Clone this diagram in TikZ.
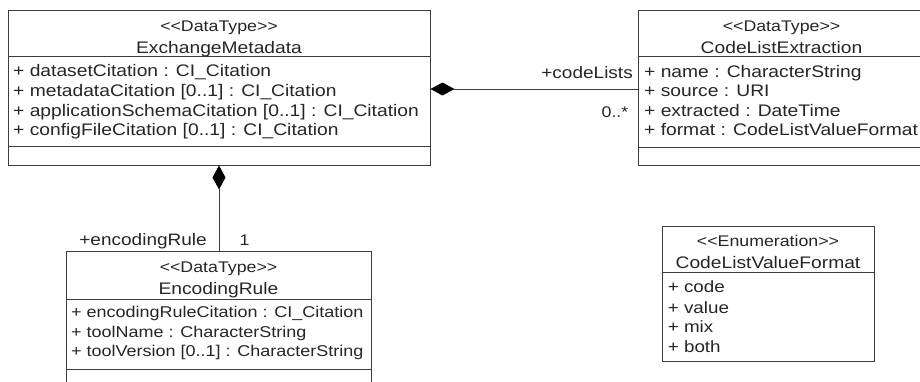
\documentclass[tikz,border=0pt]{standalone}
\usepackage{fontspec}
\setmainfont[FakeStretch=1.15]{Liberation Sans}
\usetikzlibrary{arrows.meta}
\definecolor{linec}{HTML}{3C3C3C}
\definecolor{textc}{HTML}{262626}
\tikzset{
  umlbox/.style={draw=linec, line width=0.9bp, inner sep=0pt, fill=white},
  sepline/.style={draw=linec, line width=0.9bp},
  conn/.style={draw=linec, line width=0.9bp},
  stereo/.style={anchor=base, inner sep=0pt, text=textc, font=\fontsize{15.5}{18}\selectfont},
  cname/.style={anchor=base, inner sep=0pt, text=textc, font=\fontsize{16.8}{20}\selectfont},
  attr/.style={anchor=base west, inner sep=0pt, text=textc, font=\fontsize{16.8}{20}\selectfont},
  attrsm/.style={attr, font=\fontsize{15.7}{19}\selectfont},
  rolel/.style={anchor=base east, inner sep=0pt, text=textc, font=\fontsize{16.6}{20}\selectfont},
  multl/.style={anchor=base west, inner sep=0pt, text=textc, font=\fontsize{15.5}{18}\selectfont},
  compdia/.tip={Diamond[length=24bp, width=13bp, fill=black, color=black]}
}
\begin{document}
\begin{tikzpicture}[x=1bp, y=-1bp]
\useasboundingbox (0,0) rectangle (920,381);
\clip (0,0) rectangle (920,381);
\fill[white] (0,0) rectangle (920,381);

% ExchangeMetadata
\node[umlbox, minimum width=422bp, minimum height=155bp] (em) at (219,87.5) {};
\draw[sepline] (em.west |- 0,56) -- (em.east |- 0,56);
\draw[sepline] (em.west |- 0,146) -- (em.east |- 0,146);
\node[stereo] (emst) at (219,31.5) {<{}<DataType>{}>};
\node[cname] (emnm) at (219,53.5) {ExchangeMetadata};
\node[attr] (ema1) at (13,76.7) {+ datasetCitation : CI\_Citation};
\node[attr] (ema2) at (13,96.3) {+ metadataCitation [0..1] : CI\_Citation};
\node[attr] (ema3) at (13,116) {+ applicationSchemaCitation [0..1] : CI\_Citation};
\node[attr] (ema4) at (13,135.7) {+ configFileCitation [0..1] : CI\_Citation};

% CodeListExtraction
\node[umlbox, minimum width=287bp, minimum height=155bp] (cle) at (781.5,87.5) {};
\draw[sepline] (cle.west |- 0,56) -- (cle.east |- 0,56);
\draw[sepline] (cle.west |- 0,147) -- (cle.east |- 0,147);
\node[stereo] (clest) at (781.5,31.5) {<{}<DataType>{}>};
\node[cname] (clenm) at (781.5,53.5) {CodeListExtraction};
\node[attr] (clea1) at (644,77.3) {+ name : CharacterString};
\node[attr] (clea2) at (644,96.5) {+ source : URI};
\node[attr] (clea3) at (644,116) {+ extracted : DateTime};
\node[attr] (clea4) at (644,135.7) {+ format : CodeListValueFormat};

% EncodingRule
\node[umlbox, minimum width=305bp, minimum height=149bp] (er) at (218.5,325.5) {};
\draw[sepline] (er.west |- 0,299) -- (er.east |- 0,299);
\draw[sepline] (er.west |- 0,369) -- (er.east |- 0,369);
\node[stereo] (erst) at (218.5,272.7) {<{}<DataType>{}>};
\node[cname] (ernm) at (218.5,294.3) {EncodingRule};
\node[attrsm] (era1) at (71,317.3) {+ encodingRuleCitation : CI\_Citation};
\node[attrsm] (era2) at (71,337.3) {+ toolName : CharacterString};
\node[attrsm] (era3) at (71,356.7) {+ toolVersion [0..1] : CharacterString};

% CodeListValueFormat
\node[umlbox, minimum width=212bp, minimum height=135bp] (clvf) at (768,293.5) {};
\draw[sepline] (clvf.west |- 0,272) -- (clvf.east |- 0,272);
\node[stereo] (clvfst) at (768,246.7) {<{}<Enumeration>{}>};
\node[cname] (clvfnm) at (768,268.3) {CodeListValueFormat};
\node[attr, font=\fontsize{16.4}{19}\selectfont] (clvf1) at (667.7,292.7) {+ code};
\node[attr, font=\fontsize{16.4}{19}\selectfont] (clvf2) at (667.7,313.3) {+ value};
\node[attr, font=\fontsize{16.4}{19}\selectfont] (clvf3) at (667.7,332.8) {+ mix};
\node[attr, font=\fontsize{16.4}{19}\selectfont] (clvf4) at (667.7,352.7) {+ both};

% Connectors
\draw[conn, {compdia}-] ([yshift=-1.5bp]em.east) -- ([yshift=-1.5bp]cle.west);
\draw[conn, {compdia}-] (em.south) -- (em.south |- er.north);

% Role labels
\node[rolel] (rcl) at (633,78.3) {+codeLists};
\node[rolel, font=\fontsize{15.5}{18}\selectfont] (mcl) at (628.5,117.3) {0..*};
\node[rolel] (rer) at (207,245) {+encodingRule};
\node[multl] (mer) at (239.5,245) {1};
\end{tikzpicture}
\end{document}
